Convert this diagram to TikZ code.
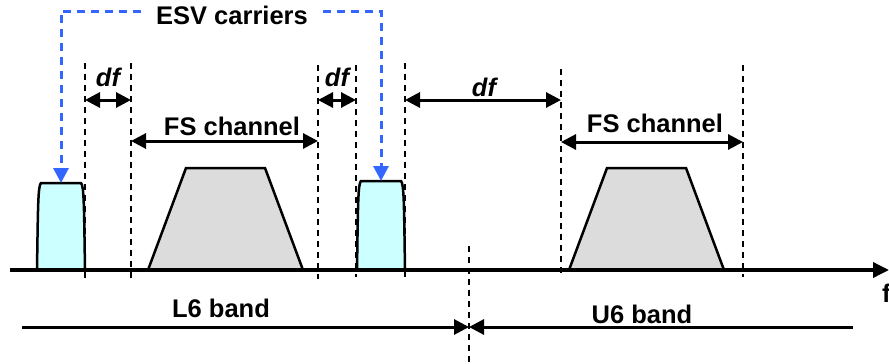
\documentclass[tikz,border=0pt]{standalone}
\usepackage{fontspec}
\setmainfont{Liberation Sans}
\usetikzlibrary{arrows.meta}
\definecolor{esvblue}{HTML}{3366FF}
\definecolor{esvfill}{HTML}{CCFFFF}
\definecolor{fsfill}{HTML}{DCDCDC}
\tikzset{
  lbl/.style={font=\fontsize{25.5}{30}\selectfont\bfseries, inner sep=0pt},
  dflbl/.style={font=\fontsize{25.5}{30}\selectfont\bfseries\itshape, inner sep=0pt},
  guide/.style={draw=black, line width=2pt, dash pattern=on 6pt off 5pt},
  bluedash/.style={draw=esvblue, line width=3pt, dash pattern=on 8pt off 6pt},
  tip/.style={Triangle[length=15pt,width=15pt]},
  dim/.style={draw=black, line width=3pt, {Triangle[length=15pt,width=15pt]}-{Triangle[length=15pt,width=15pt]}},
  axisline/.style={draw=black, line width=3.5pt},
  esv/.style={draw=black, line width=2.5pt, fill=esvfill},
  fs/.style={draw=black, line width=2.5pt, fill=fsfill},
}
\begin{document}
\begin{tikzpicture}[x=1pt, y=-1pt]
\useasboundingbox (0,0) rectangle (889,364);
% guide lines
\foreach \n/\x/\a/\b in {g1/85/63/279, g2/131/63/279, g3/318/65/279, g4/356/65/277, g5/405/63/277, g6/561/69/273, g7/743/65/277, g8/469/246/364} {
  \coordinate (\n t) at (\x,\a);
  \coordinate (\n b) at (\x,\b);
  \draw[guide] (\n t) -- (\n b);
}
% ESV carriers
\draw[esv] (37,270) .. controls (38,205) and (38,186) .. (41,183) -- (81,183) .. controls (84,186) and (84,205) .. (85,270);
\draw[esv] (357,270) .. controls (358,203) and (358,184) .. (361,181) -- (401,181) .. controls (404,184) and (404,203) .. (405,270);
% FS channels
\draw[fs] (148,270) -- (186,168) -- (265,168) -- (303,270);
\draw[fs] (569,270) -- (607,168) -- (686,168) -- (724,270);
% axis
\coordinate (ax0) at (10,270);
\coordinate (ax1) at (889,270);
\draw[axisline, -{Triangle[length=16pt,width=15pt]}] (ax0) -- (ax1);
\node[lbl, anchor=west] (f) at (882,293) {f};
% df arrows
\coordinate (d1a) at (85,100); \coordinate (d1b) at (131,100);
\coordinate (d2a) at (318,100); \coordinate (d2b) at (356,100);
\coordinate (d3a) at (405,100); \coordinate (d3b) at (561,100);
\draw[dim] (d1a) -- (d1b);
\draw[dim] (d2a) -- (d2b);
\draw[dim] (d3a) -- (d3b);
\node[dflbl] (df1) at (108,77) {df};
\node[dflbl] (df2) at (337,77) {df};
\node[dflbl] (df3) at (484,87) {df};
% FS channel arrows
\coordinate (fs1a) at (131,141); \coordinate (fs1b) at (318,141);
\coordinate (fs2a) at (561,142); \coordinate (fs2b) at (743,142);
\draw[dim] (fs1a) -- (fs1b);
\draw[dim] (fs2a) -- (fs2b);
\node[lbl] (fsl1) at (232,126) {FS channel};
\node[lbl] (fsl2) at (655,123) {FS channel};
% ESV carriers label and blue arrows
\node[lbl] (esvl) at (232,15) {ESV carriers};
\coordinate (b1s) at (141,11);
\coordinate (b1c) at (61,11);
\coordinate (e1) at (61,183);
\coordinate (b2s) at (323,11);
\coordinate (b2c) at (381,11);
\coordinate (e2) at (381,181);
\draw[bluedash, -{Triangle[length=15pt,width=15pt]}] (b1s) -- (b1c) -- (e1);
\draw[bluedash, -{Triangle[length=15pt,width=15pt]}] (b2s) -- (b2c) -- (e2);
% bands
\coordinate (l6a) at (22,327);
\coordinate (bmid) at (469,327);
\coordinate (u6b) at (853,327);
\draw[black, line width=3pt, -{Triangle[length=15pt,width=15pt]}] (l6a) -- (bmid);
\draw[black, line width=3pt, -{Triangle[length=15pt,width=15pt]}] (u6b) -- (bmid);
\node[lbl] (l6) at (221,308) {L6 band};
\node[lbl] (u6) at (642,314) {U6 band};
\end{tikzpicture}
\end{document}
